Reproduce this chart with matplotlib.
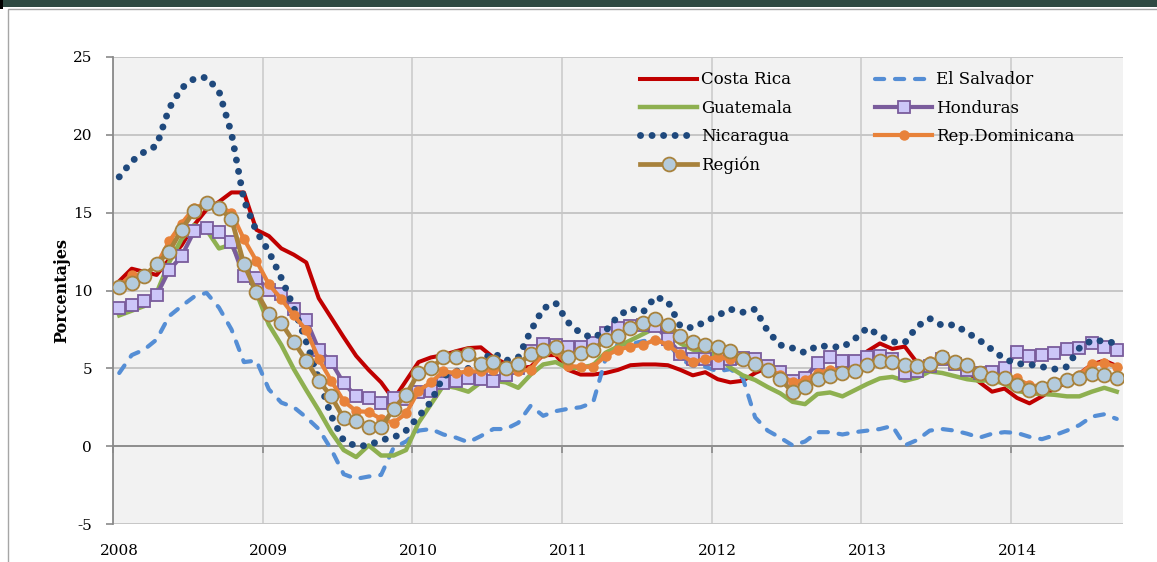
import matplotlib.pyplot as plt
import matplotlib.transforms as mtransforms
from matplotlib.patches import Rectangle
import numpy as np

# monthly inflation, Jan 2008 .. Sep 2014
years = ['2008', '2009', '2010', '2011', '2012', '2013', '2014']

costa_rica = [10.6, 11.4, 11.2, 11.0, 12.0, 12.9, 14.2, 15.2, 15.7, 16.3,
              16.3, 13.9, 13.5, 12.7, 12.3, 11.8, 9.5, 8.25, 7.0, 5.8,
              4.9, 4.1, 3.0, 4.2, 5.4, 5.7, 5.85, 6.1, 6.3, 6.35,
              5.7, 5.3, 5.0, 5.1, 5.85, 5.85, 4.9, 4.6, 4.6, 4.7,
              4.9, 5.2, 5.25, 5.25, 5.2, 4.9, 4.55, 4.75, 4.3, 4.1,
              4.2, 4.7, 5.05, 4.6, 4.2, 4.0, 4.5, 4.7, 5.05, 5.25,
              6.1, 6.6, 6.25, 6.4, 5.35, 5.25, 5.6, 5.25, 4.8, 4.1,
              3.5, 3.7, 3.1, 2.75, 3.2, 3.7, 4.1, 4.65, 5.25, 5.5, 5.15]

el_salvador = [4.7, 5.85, 6.2, 6.85, 8.35, 9.0, 9.6, 9.85, 8.9, 7.5,
               5.4, 5.5, 3.65, 2.8, 2.5, 1.85, 1.1,
               -0.2, -1.8, -2.1, -1.95, -1.85, -0.1, 0.3,
               1.0, 1.1, 0.75, 0.55, 0.25, 0.65, 1.1, 1.1, 1.5, 2.6,
               1.95, 2.25, 2.4, 2.5, 2.8,
               5.6, 6.55, 6.55, 6.75, 6.85, 6.65, 5.6, 5.15, 5.1, 4.8,
               4.95, 4.4, 1.85, 1.0,
               0.55, 0.05, 0.3, 0.9, 0.9, 0.75, 0.9, 1.0, 1.1, 1.3,
               0.05, 0.4, 1.0, 1.1, 1.0, 0.8, 0.55, 0.8, 0.9, 0.85,
               0.6, 0.45, 0.7, 1.0, 1.35, 1.9, 2.05, 1.75]

guatemala = [8.4, 8.7, 9.0, 9.85, 11.8, 13.3, 14.2, 13.9, 12.7, 12.95,
             11.45, 9.85, 7.8, 6.5, 4.95, 3.6,
             2.3, 0.9, -0.25, -0.7, 0.05, -0.6, -0.6, -0.25, 1.5, 2.7,
             3.9, 3.75, 3.5, 4.1, 4.2, 4.1, 3.75,
             4.6, 5.25, 5.4, 5.0, 5.05, 5.2, 6.0, 6.4, 6.8, 7.2,
             7.6, 7.2, 6.6, 6.2, 6.1,
             5.75, 5.05, 4.55, 4.25, 3.8,
             3.4, 2.85, 2.7, 3.35, 3.45, 3.2, 3.6, 4.0, 4.35, 4.45, 4.2, 4.4,
             4.8, 4.7, 4.5, 4.3, 4.2, 4.25, 4.0, 3.55, 3.4, 3.35,
             3.3, 3.2, 3.2, 3.5, 3.75, 3.5]

honduras = [8.9, 9.05, 9.3, 9.7, 11.3, 12.2, 13.8, 14.0, 13.75, 13.1,
            10.9, 10.8, 10.05, 9.8, 8.8, 8.1,
            6.2, 5.4, 4.05, 3.2, 3.1, 2.8, 3.1, 3.0, 3.5, 3.55,
            4.05, 4.2, 4.4, 4.3, 4.2, 4.55,
            5.0, 6.1, 6.55, 6.5, 6.4, 6.4, 6.65, 7.3, 7.6, 7.75,
            7.8, 7.7, 6.9, 5.95, 5.6, 5.6,
            5.35, 5.6, 5.65, 5.6, 5.15, 4.75, 4.2, 4.4, 5.35, 5.7,
            5.5, 5.45, 5.7, 5.8, 5.6, 4.7,
            4.8, 5.15, 5.6, 5.3, 4.9, 4.7, 4.75, 5.0, 6.05, 5.8,
            5.85, 6.0, 6.25, 6.3, 6.65, 6.4, 6.2]

nicaragua = [17.3, 18.3, 18.9, 19.3, 21.7, 23.0, 23.6, 23.7, 22.8, 20.1,
             15.8, 13.8, 12.5, 10.8, 8.9, 6.7,
             4.3, 1.95, 0.35, 0.0, 0.05, 0.4, 0.55, 1.0, 1.9, 2.85,
             4.5, 4.8, 5.0, 5.5, 6.0, 5.5,
             5.7, 7.4, 8.85, 9.2, 7.95, 7.25, 6.95, 7.4, 8.35, 8.85,
             8.6, 9.6, 9.3, 7.7, 7.6, 8.0,
             8.4, 8.8, 8.6, 8.8, 7.4, 6.5, 6.3, 6.0, 6.45, 6.4,
             6.35, 6.9, 7.6, 7.1, 6.7, 6.65,
             7.7, 8.2, 7.75, 7.8, 7.3, 6.8, 6.2, 5.6, 5.3, 5.25,
             5.1, 4.95, 5.1, 6.3, 6.8, 6.75, 6.6]

rep_dominicana = [10.3, 11.0, 10.95, 11.65, 13.15, 14.3, 15.3, 15.6, 15.4, 15.0,
                  13.3, 11.9, 10.4, 9.45, 8.4, 7.45,
                  5.6, 4.2, 2.9, 2.25, 2.2, 1.75, 1.5, 2.1, 3.55, 4.1,
                  4.8, 4.7, 4.8, 4.8, 4.9, 5.0,
                  4.85, 4.9, 6.0, 6.1, 5.15, 5.1, 5.1, 5.8, 6.2, 6.4,
                  6.5, 6.85, 6.5, 5.9, 5.4, 5.6,
                  5.7, 5.6, 5.6, 5.25, 4.9, 4.6, 4.1, 4.25, 4.7, 4.9,
                  4.85, 4.75, 5.2, 5.45, 5.4, 5.2,
                  5.2, 5.45, 5.7, 5.5, 5.2, 4.7, 4.5, 4.5, 4.35, 3.9,
                  3.85, 4.1, 4.4, 4.6, 5.25, 5.35, 5.1]

region = [10.2, 10.5, 10.9, 11.7, 12.5, 13.9, 15.1, 15.6, 15.3, 14.6,
          11.7, 9.9, 8.5, 7.9, 6.7, 5.5,
          4.2, 3.2, 1.8, 1.6, 1.2, 1.2, 2.4, 3.3, 4.7, 5.0,
          5.7, 5.75, 5.9, 5.3, 5.4, 5.0,
          5.3, 5.9, 6.2, 6.4, 5.75, 6.0, 6.2, 6.8, 7.1, 7.6,
          7.9, 8.2, 7.8, 7.1, 6.7, 6.5,
          6.4, 6.1, 5.6, 5.3, 4.9, 4.3, 3.5, 3.8, 4.3, 4.5,
          4.7, 4.8, 5.2, 5.45, 5.4, 5.2,
          5.15, 5.3, 5.7, 5.4, 5.2, 4.7, 4.4, 4.35, 3.9, 3.6,
          3.75, 4.0, 4.25, 4.4, 4.65, 4.6, 4.4]

plt.rcParams['font.family'] = ['DejaVu Serif']
plt.rcParams['axes.unicode_minus'] = False

n = len(region)
x = np.arange(n) + 0.5

fig = plt.figure(figsize=(11.57, 5.62), dpi=100)

# decoration of the slide: dark band on top, thin frame
fig.patches.append(Rectangle((0, 1 - 7 / 562), 1, 7 / 562, transform=fig.transFigure,
                             facecolor='#2e4a42', edgecolor='none', zorder=0))
fig.patches.append(Rectangle((0, 1 - 9 / 562), 3 / 1157, 9 / 562, transform=fig.transFigure,
                             facecolor='black', edgecolor='none', zorder=1))
fig.patches.append(Rectangle((8 / 1157, -0.05), 1.2, 1.05 - 9 / 562, transform=fig.transFigure,
                             facecolor='none', edgecolor='#a6a6a6', lw=1.0, zorder=0))

ax = fig.add_axes([113 / 1157, 1 - 524 / 562, (1123 - 113) / 1157, (524 - 57) / 562])
ax.set_facecolor('#f2f2f2')
ax.set_xlim(0, n)
ax.set_ylim(-5, 25)

ax.plot(x, costa_rica, color='#c00000', lw=2.9, label='Costa Rica', zorder=3)
ax.plot(x, el_salvador, color='#558ed5', lw=3.0, ls=(0, (2.2, 2.6)),
        dash_capstyle='round', label='El Salvador', zorder=3)
ax.plot(x, guatemala, color='#8eb050', lw=3.2, label='Guatemala', zorder=3)
ax.plot(x, honduras, color='#7a5c9c', lw=3.0, marker='s', ms=8,
        mfc='#ccc6f8', mec='#7a5c9c', mew=1.3, label='Honduras', zorder=4)
ax.plot(x, nicaragua, color='#1f497d', lw=5.0, ls=(0, (0.01, 1.65)),
        dash_capstyle='round', label='Nicaragua', zorder=4)
ax.plot(x, rep_dominicana, color='#e8823a', lw=3.0, marker='o', ms=6.5,
        mfc='#e8823a', mec='#e8823a', label='Rep.Dominicana', zorder=4)
ax.plot(x, region, color='#a8823c', lw=3.4, marker='o', ms=10,
        mfc='#b4cbdc', mec='#a8823c', mew=1.3, label='Región', zorder=5)

# axes styling
ax.set_yticks(np.arange(-5, 26, 5))
ax.set_xticks(np.arange(0, n, 12))
ax.set_xticklabels([])
ax.grid(True, axis='y', color='#c6c6c6', lw=1.4)
ax.grid(True, axis='x', color='#cccccc', lw=1.2)
ax.set_axisbelow(True)
for side in ['top', 'right']:
    ax.spines[side].set_visible(False)
ax.spines['left'].set_color('#8a8a8a')
ax.spines['left'].set_linewidth(1.3)
ax.spines['bottom'].set_position(('data', 0))
ax.spines['bottom'].set_color('#8a8a8a')
ax.spines['bottom'].set_linewidth(1.3)
ax.tick_params(axis='y', length=5, width=1.2, color='#8a8a8a', labelsize=11, pad=10)
ax.tick_params(axis='x', length=5, width=1.2, color='#8a8a8a', direction='out')

trans = mtransforms.blended_transform_factory(ax.transData, ax.transAxes)
for k, yr in enumerate(years):
    ax.text(12 * k + 0.5, -0.058, yr, transform=trans, ha='center', va='center',
            fontsize=11)

ax.set_ylabel('Porcentajes', fontsize=11.5, fontweight='bold', labelpad=2)

handles, labels = ax.get_legend_handles_labels()
order = [0, 2, 4, 6, 1, 3, 5]
ax.legend([handles[i] for i in order], [labels[i] for i in order],
          ncol=2, loc='upper left', bbox_to_anchor=(0.522, 0.969), frameon=False,
          fontsize=12, handlelength=3.4, handletextpad=0.25, labelspacing=0.68,
          columnspacing=5.0, borderaxespad=0, borderpad=0)

fig.savefig('out.png', dpi=100)
